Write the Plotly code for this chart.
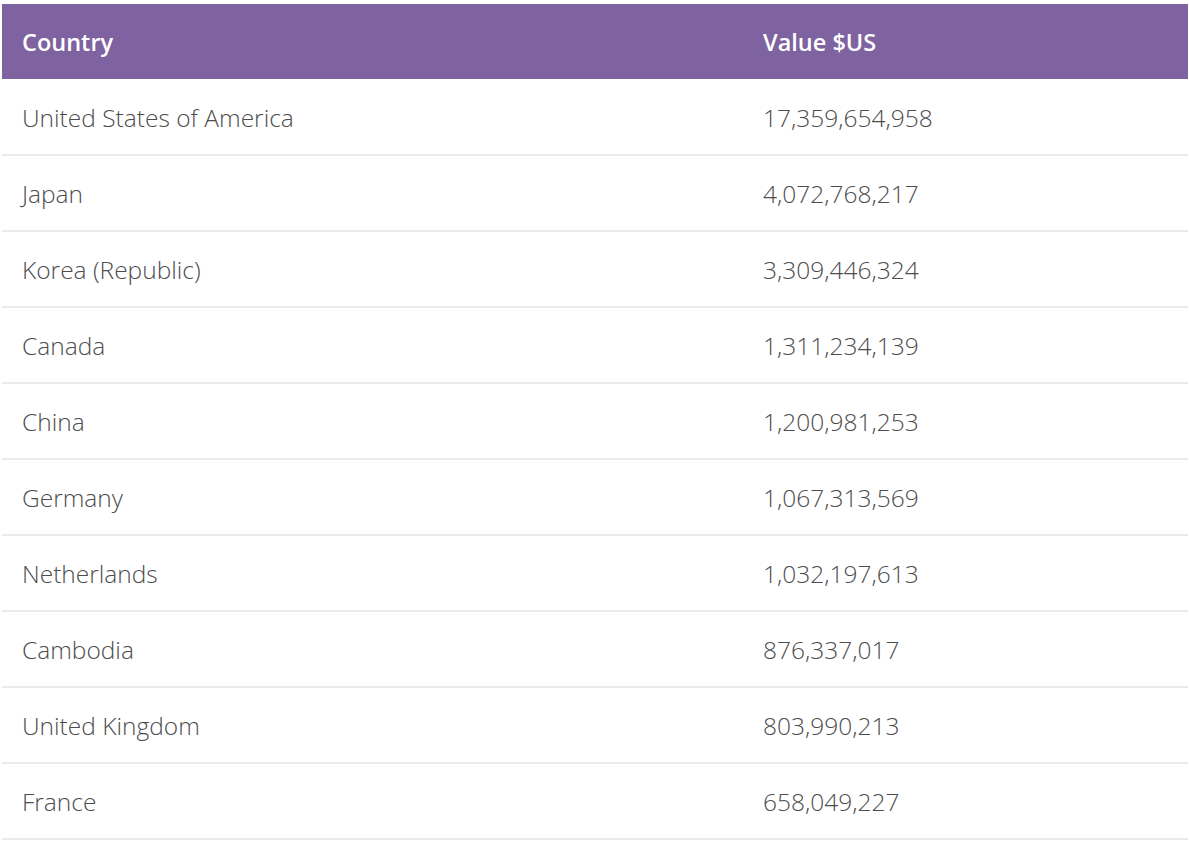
import plotly.graph_objects as go

countries = [
    "United States of America", "Japan", "Korea (Republic)", "Canada", "China",
    "Germany", "Netherlands", "Cambodia", "United Kingdom", "France",
]
values_usd = [
    17359654958, 4072768217, 3309446324, 1311234139, 1200981253,
    1067313569, 1032197613, 876337017, 803990213, 658049227,
]
headers = ["Country", "Value $US"]

W, H = 1189, 844
top = 4
header_h = 75
row_h = 76
col_x = [20, 761]          # text start of each column (pixels from table left)
table_w = W - 3
text_dy = 4                # nudge text down so the caps sit centred like the original

value_text = [f"{v:,}" for v in values_usd]
row_y = [header_h + row_h * (k + 0.5) + text_dy for k in range(len(countries))]

font_body = dict(family="Open Sans", size=24.5, color="#4d4d4d", weight=300)
font_head = dict(family="Open Sans", size=23.5, color="white", weight=600)

fig = go.Figure()
fig.add_trace(go.Scatter(
    x=[col_x[0]] * len(countries), y=row_y, text=countries,
    mode="text", textposition="middle right", textfont=font_body, hoverinfo="skip",
))
fig.add_trace(go.Scatter(
    x=[col_x[1]] * len(values_usd), y=row_y, text=value_text,
    mode="text", textposition="middle right", textfont=font_body, hoverinfo="skip",
))
fig.add_trace(go.Scatter(
    x=col_x, y=[header_h / 2 + text_dy] * 2, text=headers,
    mode="text", textposition="middle right", textfont=font_head, hoverinfo="skip",
))

shapes = [dict(type="rect", xref="x", yref="y", x0=0, x1=table_w, y0=0, y1=header_h,
               fillcolor="#7f62a0", line=dict(width=0), layer="below")]
for k in range(len(countries)):
    y = header_h + row_h * (k + 1)
    shapes.append(dict(type="line", xref="x", yref="y", x0=0, x1=table_w, y0=y, y1=y,
                       line=dict(color="#e4e4e4", width=1.5), layer="below"))

fig.update_layout(
    width=W, height=H,
    margin=dict(l=2, r=1, t=top, b=0),
    paper_bgcolor="white", plot_bgcolor="white",
    xaxis=dict(range=[0, table_w], visible=False, fixedrange=True),
    yaxis=dict(range=[H - top, 0], visible=False, fixedrange=True),
    shapes=shapes,
    showlegend=False,
)

# page body has an 8px default margin; drop it so the table sits like the original
fig.write_html("out.html", config=dict(displayModeBar=False),
               post_script="document.body.style.margin='0';")
